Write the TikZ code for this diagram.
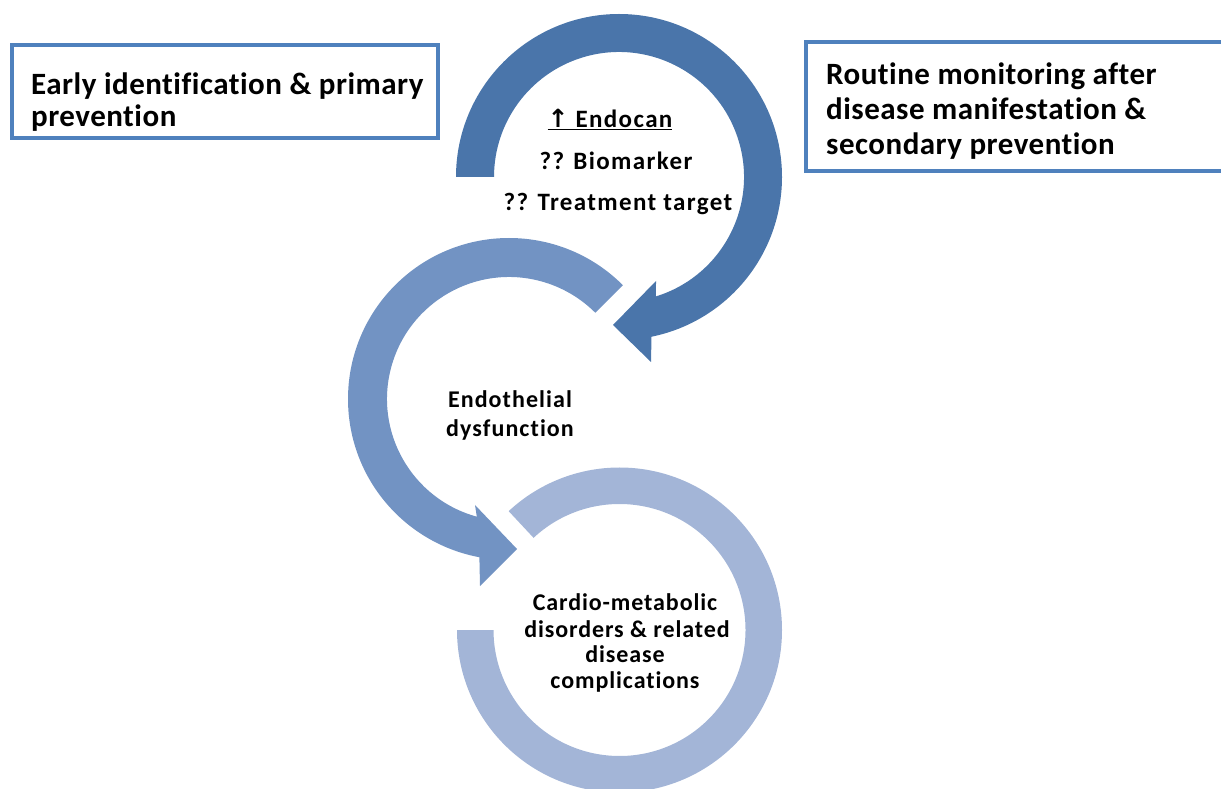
\documentclass[tikz,border=0pt]{standalone}
\usepackage{fontspec}
\setmainfont{Carlito}[Ligatures=NoCommon]
\newfontfamily\boxfont{Carlito}[LetterSpace=1.6,Ligatures=NoCommon]
\newfontfamily\topfont{Carlito}[LetterSpace=5.5,Ligatures=NoCommon]
\newfontfamily\midfont{Carlito}[LetterSpace=4.5,Ligatures=NoCommon]
\newfontfamily\botfont{Carlito}[LetterSpace=3.8,Ligatures=NoCommon]
\newfontfamily\symfont{DejaVu Sans}
\definecolor{darkarrow}{RGB}{74,117,170}
\definecolor{midarrow}{RGB}{114,147,195}
\definecolor{lightring}{RGB}{163,181,215}
\definecolor{boxline}{RGB}{79,129,189}
\begin{document}
\begin{tikzpicture}[x=1pt,y=1pt,
  boxtxt/.style={font=\boxfont\bfseries\fontsize{31}{36}\selectfont, anchor=base west, inner sep=0pt},
  toptxt/.style={font=\topfont\bfseries\fontsize{25}{29}\selectfont, anchor=base, inner sep=0pt},
  midtxt/.style={font=\midfont\bfseries\fontsize{24}{28}\selectfont, anchor=base, inner sep=0pt},
  bottxt/.style={font=\botfont\bfseries\fontsize{24}{28}\selectfont, anchor=base, inner sep=0pt},
  framebox/.style={draw=boxline, line width=4pt, fill=white}]
\useasboundingbox (0,0) rectangle (1221,788);
\clip (0,0) rectangle (1221,788);
% bottom ring
\fill[lightring] ([shift={(619.5,158)}]180:162.5) arc[start angle=180,end angle=493,radius=162.5]
  -- ([shift={(619.5,158)}]493:126) arc[start angle=493,end angle=180,radius=126] -- cycle;
% middle arrow
\fill[midarrow] ([shift={(509,389)}]45:161) arc[start angle=45,end angle=259.4,radius=161]
  -- (480,202) -- (517,239) -- (475,283)
  -- ([shift={(509,389)}]254.7:122) arc[start angle=254.7,end angle=45,radius=122] -- cycle;
% top arrow
\fill[darkarrow] ([shift={(619,611)}]180:163) arc[start angle=180,end angle=-78.5,radius=163]
  -- (651,426) -- (613,463) -- (656,507)
  -- ([shift={(619,611)}]-72.8:125) arc[start angle=-72.8,end angle=180,radius=125] -- cycle;
% boxes
\draw[framebox] (12,650) rectangle (438,743);
\draw[framebox] (806,617) rectangle (1235,746);
\node[boxtxt] (l1) at (31,693) {Early identification \& primary};
\node[boxtxt] (l2) at (31,661) {prevention};
\node[boxtxt] (r1) at (826,703) {Routine monitoring after};
\node[boxtxt] (r2) at (826,668) {disease manifestation \&};
\node[boxtxt] (r3) at (826,633) {secondary prevention};
% centre texts
\node[toptxt] (t1) at (610,660) {\underline{{\symfont\bfseries ↑} Endocan}};
\node[toptxt] (t2) at (616,618) {?? Biomarker};
\node[toptxt] (t3) at (618,577) {?? Treatment target};
\node[midtxt] (m1) at (510,380) {Endothelial};
\node[midtxt] (m2) at (510,351) {dysfunction};
\node[bottxt] (b1) at (625,178) {Cardio-metabolic};
\node[bottxt] (b2) at (627,151) {disorders \& related};
\node[bottxt] (b3) at (625,126) {disease};
\node[bottxt] (b4) at (625,100) {complications};
\end{tikzpicture}
\end{document}
